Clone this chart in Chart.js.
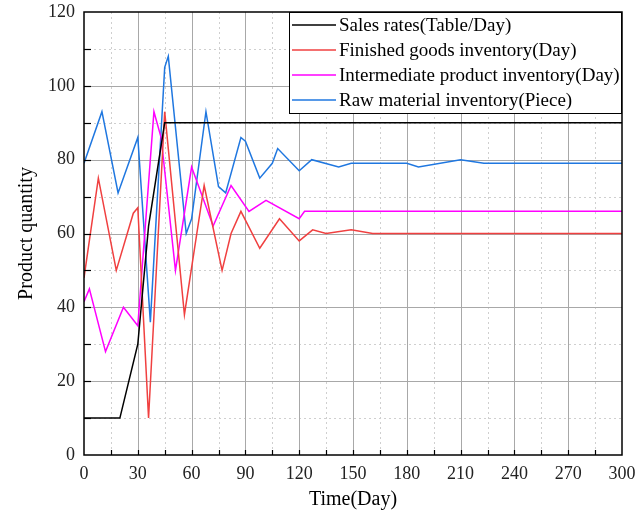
<!DOCTYPE html>
<html>
<head>
<meta charset="utf-8">
<script src="https://cdn.jsdelivr.net/npm/chart.js@4.4.1/dist/chart.umd.min.js"></script>
<style>
  html, body { margin: 0; padding: 0; background: #fff; }
  #wrap { width: 636px; height: 519px; }
</style>
</head>
<body>
<div id="wrap"><canvas id="chart" width="636" height="519"></canvas></div>
<script>
// Serie temporal (días) y valores de cada variable
const salesDays = [0, 20, 30, 36, 45, 300];
const salesRate = [10, 10, 30, 62, 90, 90];

const finishedDays = [0, 8, 18, 27.5, 30, 36, 45, 56, 67, 77, 82, 87.5, 98, 109, 120, 127.5, 135, 149, 161, 300];
const finishedInv = [48, 75, 50, 65.5, 67, 10, 93, 38, 73, 50, 60, 66, 56, 64, 58, 61, 60, 61, 60, 60];

const interDays = [0, 3, 12, 22, 30, 39, 43, 51, 60, 72, 82, 92, 101.5, 120, 123, 300];
const interInv = [41.5, 45, 28, 40, 35, 93, 86, 50, 78, 62, 73, 66, 69, 64, 66, 66];

const rawDays = [0, 10, 19, 30, 37, 45, 47, 57, 60, 68, 75, 79, 87.5, 90, 98, 105, 108, 120, 127, 142, 149, 180, 186.5, 210, 223, 300];
const rawInv = [79, 93, 71, 86, 36, 105, 108, 60, 64, 93, 72.7, 71, 86, 85, 75, 79, 83, 77, 80, 78, 79, 79, 78, 80, 79, 79];

const seriesLabels = [
  "Sales rates(Table/Day)",
  "Finished goods inventory(Day)",
  "Intermediate product inventory(Day)",
  "Raw material inventory(Piece)"
];
const seriesColors = ["#000000", "#f04040", "#ff00ff", "#1f77e0"];

const xTicks = [0, 30, 60, 90, 120, 150, 180, 210, 240, 270, 300];
const yTicks = [0, 20, 40, 60, 80, 100, 120];

const FONT = "'Liberation Serif', 'Times New Roman', serif";

function toPoints(xs, ys) {
  return xs.map((x, i) => ({ x: x, y: ys[i] }));
}

const allSeries = [
  toPoints(salesDays, salesRate),
  toPoints(finishedDays, finishedInv),
  toPoints(interDays, interInv),
  toPoints(rawDays, rawInv)
];

// Rejilla principal/secundaria, marcas hacia dentro y marco
const framePlugin = {
  id: "frame",
  beforeDatasetsDraw(chart) {
    const { ctx, chartArea: a, scales: { x, y } } = chart;
    ctx.save();
    ctx.lineWidth = 1;
    // líneas punteadas secundarias
    ctx.strokeStyle = "#cfcfcf";
    ctx.setLineDash([2, 3]);
    for (let v = 15; v < 300; v += 30) {
      const px = Math.round(x.getPixelForValue(v)) + 0.5;
      ctx.beginPath(); ctx.moveTo(px, a.top); ctx.lineTo(px, a.bottom); ctx.stroke();
    }
    for (let v = 10; v < 120; v += 20) {
      const py = Math.round(y.getPixelForValue(v)) + 0.5;
      ctx.beginPath(); ctx.moveTo(a.left, py); ctx.lineTo(a.right, py); ctx.stroke();
    }
    // líneas sólidas principales
    ctx.setLineDash([]);
    ctx.strokeStyle = "#a8a8a8";
    xTicks.slice(1, -1).forEach(v => {
      const px = Math.round(x.getPixelForValue(v)) + 0.5;
      ctx.beginPath(); ctx.moveTo(px, a.top); ctx.lineTo(px, a.bottom); ctx.stroke();
    });
    yTicks.slice(1, -1).forEach(v => {
      const py = Math.round(y.getPixelForValue(v)) + 0.5;
      ctx.beginPath(); ctx.moveTo(a.left, py); ctx.lineTo(a.right, py); ctx.stroke();
    });
    ctx.restore();
  },
  afterDatasetsDraw(chart) {
    const { ctx, chartArea: a, scales: { x, y } } = chart;
    ctx.save();
    ctx.strokeStyle = "#000";
    ctx.lineWidth = 1.5;
    ctx.strokeRect(a.left, a.top, a.right - a.left, a.bottom - a.top);
    ctx.lineWidth = 1.2;
    for (let v = 15; v < 300; v += 15) {
      const px = Math.round(x.getPixelForValue(v)) + 0.5;
      ctx.beginPath(); ctx.moveTo(px, a.bottom); ctx.lineTo(px, a.bottom - 5); ctx.stroke();
    }
    for (let v = 10; v < 120; v += 10) {
      const py = Math.round(y.getPixelForValue(v)) + 0.5;
      ctx.beginPath(); ctx.moveTo(a.left, py); ctx.lineTo(a.left + 7, py); ctx.stroke();
    }
    ctx.restore();
  },
  afterDraw(chart) {
    // leyenda dentro del área, arriba a la derecha
    const { ctx, chartArea: a } = chart;
    const boxL = 289, boxT = a.top, boxR = a.right, boxB = 113;
    ctx.save();
    ctx.fillStyle = "#fff";
    ctx.fillRect(boxL, boxT, boxR - boxL, boxB - boxT);
    ctx.strokeStyle = "#000";
    ctx.lineWidth = 1;
    ctx.strokeRect(boxL + 0.5, boxT + 0.5, boxR - boxL - 1, boxB - boxT);
    ctx.font = "19px " + FONT;
    ctx.textBaseline = "middle";
    chart.data.datasets.forEach((ds, i) => {
      const ly = 25 + i * 25;
      ctx.strokeStyle = ds.borderColor;
      ctx.lineWidth = 1.5;
      ctx.beginPath(); ctx.moveTo(292, ly); ctx.lineTo(336, ly); ctx.stroke();
      ctx.fillStyle = "#000";
      ctx.fillText(ds.label, 339, ly + 1);
    });
    ctx.restore();
  }
};

new Chart(document.getElementById("chart"), {
  type: "scatter",
  data: {
    datasets: allSeries.map((pts, i) => ({
      label: seriesLabels[i],
      data: pts,
      showLine: true,
      borderColor: seriesColors[i],
      backgroundColor: seriesColors[i],
      borderWidth: 1.5,
      pointRadius: 0,
      tension: 0
    }))
  },
  options: {
    responsive: false,
    animation: false,
    layout: { padding: { top: 12, right: 14, left: 0, bottom: 0 } },
    plugins: { legend: { display: false }, tooltip: { enabled: false } },
    scales: {
      x: {
        type: "linear",
        min: 0, max: 300,
        afterBuildTicks: s => { s.ticks = xTicks.map(v => ({ value: v })); },
        afterFit: s => { s.height = 64; s.paddingLeft = 0; s.paddingRight = 0; },
        grid: { display: false, drawTicks: false },
        border: { display: false },
        ticks: { color: "#222", padding: 8, maxRotation: 0, font: { family: FONT, size: 18 } },
        title: { display: true, text: "Time(Day)", color: "#000", padding: { top: 0, bottom: 7 }, font: { family: FONT, size: 20 } }
      },
      y: {
        min: 0, max: 120,
        afterBuildTicks: s => { s.ticks = yTicks.map(v => ({ value: v })); },
        afterFit: s => { s.width = 84; s.paddingTop = 0; s.paddingBottom = 0; },
        grid: { display: false, drawTicks: false },
        border: { display: false },
        ticks: { color: "#222", padding: 9, font: { family: FONT, size: 18 } },
        title: { display: true, text: "Product quantity", color: "#000", padding: { top: 15, bottom: 0 }, font: { family: FONT, size: 20 } }
      }
    }
  },
  plugins: [framePlugin]
});
</script>
</body>
</html>
